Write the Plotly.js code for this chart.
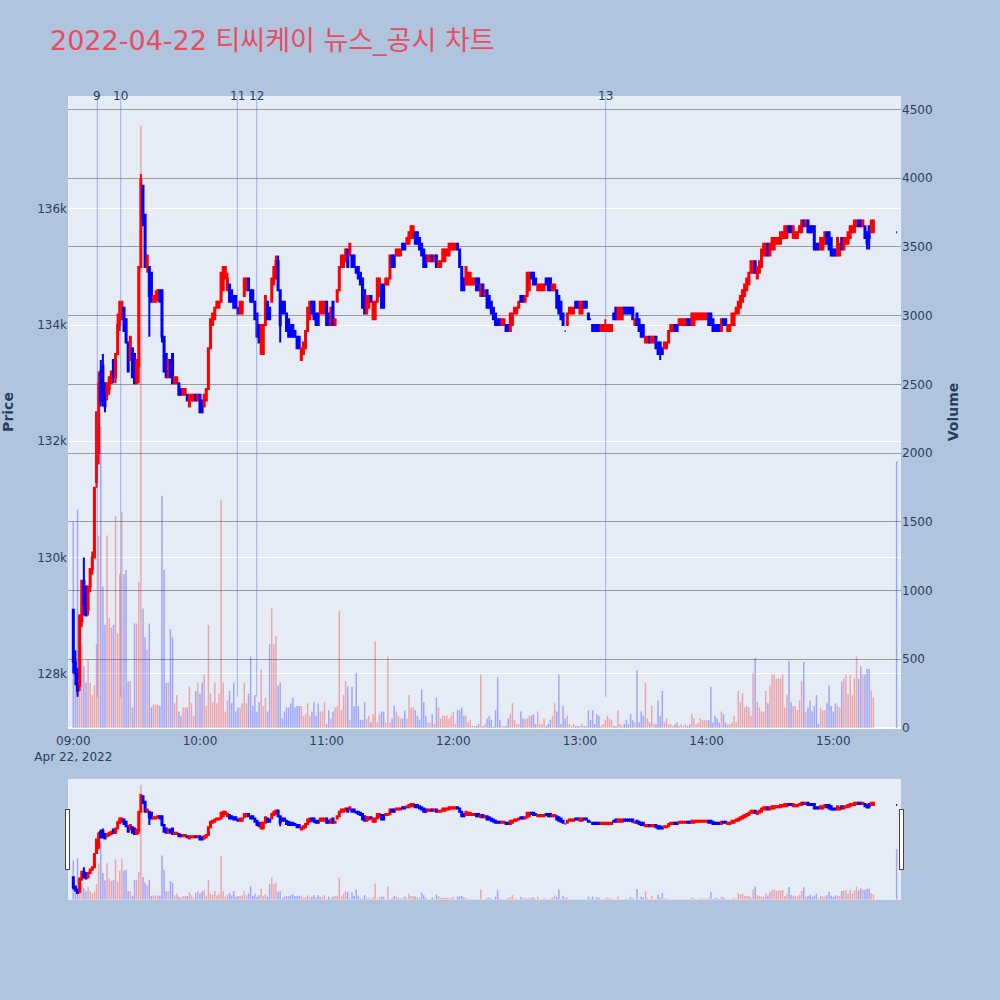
<!DOCTYPE html>
<html>
<head>
<meta charset="utf-8">
<script src="https://cdn.plot.ly/plotly-3.0.1.min.js"></script>
<style>html,body{margin:0;padding:0;background:#B0C4DE;}</style>
</head>
<body>
<div id="chart" style="width:1000px;height:1000px;"></div>
<script>
const chartTitle = '2022-04-22 티씨케이 뉴스_공시 차트';
const tradeDate = '2022-04-22';

const times = [
'09:00','09:01','09:02','09:03','09:04','09:05','09:06','09:07','09:08','09:09','09:10','09:11','09:12','09:13','09:14','09:15','09:16','09:17','09:18','09:19',
'09:20','09:21','09:22','09:23','09:24','09:25','09:26','09:27','09:28','09:29','09:30','09:31','09:32','09:33','09:34','09:35','09:36','09:37','09:38','09:39',
'09:40','09:41','09:42','09:43','09:44','09:45','09:46','09:47','09:48','09:49','09:50','09:51','09:52','09:53','09:54','09:55','09:56','09:57','09:58','09:59',
'10:00','10:01','10:02','10:03','10:04','10:05','10:06','10:07','10:08','10:09','10:10','10:11','10:12','10:13','10:14','10:15','10:16','10:17','10:18','10:19',
'10:20','10:21','10:22','10:23','10:24','10:25','10:26','10:27','10:28','10:29','10:30','10:31','10:32','10:33','10:34','10:35','10:36','10:37','10:38','10:39',
'10:40','10:41','10:42','10:43','10:44','10:45','10:46','10:47','10:48','10:49','10:50','10:51','10:52','10:53','10:54','10:55','10:56','10:57','10:58','10:59',
'11:00','11:01','11:02','11:03','11:04','11:05','11:06','11:07','11:08','11:09','11:10','11:11','11:12','11:13','11:14','11:15','11:16','11:17','11:18','11:19',
'11:20','11:21','11:22','11:23','11:24','11:25','11:26','11:27','11:28','11:29','11:30','11:31','11:32','11:33','11:34','11:35','11:36','11:37','11:38','11:39',
'11:40','11:41','11:42','11:43','11:44','11:45','11:46','11:47','11:48','11:49','11:50','11:51','11:52','11:53','11:54','11:55','11:56','11:57','11:58','11:59',
'12:00','12:01','12:02','12:03','12:04','12:05','12:06','12:07','12:08','12:09','12:10','12:11','12:12','12:13','12:14','12:15','12:16','12:17','12:18','12:19',
'12:20','12:21','12:22','12:23','12:24','12:25','12:26','12:27','12:28','12:29','12:30','12:31','12:32','12:33','12:34','12:35','12:36','12:37','12:38','12:39',
'12:40','12:41','12:42','12:43','12:44','12:45','12:46','12:47','12:48','12:49','12:50','12:51','12:52','12:53','12:54','12:55','12:56','12:57','12:58','12:59',
'13:00','13:01','13:02','13:03','13:04','13:05','13:06','13:07','13:08','13:09','13:10','13:11','13:12','13:13','13:14','13:15','13:16','13:17','13:18','13:19',
'13:20','13:21','13:22','13:23','13:24','13:25','13:26','13:27','13:28','13:29','13:30','13:31','13:32','13:33','13:34','13:35','13:36','13:37','13:38','13:39',
'13:40','13:41','13:42','13:43','13:44','13:45','13:46','13:47','13:48','13:49','13:50','13:51','13:52','13:53','13:54','13:55','13:56','13:57','13:58','13:59',
'14:00','14:01','14:02','14:03','14:04','14:05','14:06','14:07','14:08','14:09','14:10','14:11','14:12','14:13','14:14','14:15','14:16','14:17','14:18','14:19',
'14:20','14:21','14:22','14:23','14:24','14:25','14:26','14:27','14:28','14:29','14:30','14:31','14:32','14:33','14:34','14:35','14:36','14:37','14:38','14:39',
'14:40','14:41','14:42','14:43','14:44','14:45','14:46','14:47','14:48','14:49','14:50','14:51','14:52','14:53','14:54','14:55','14:56','14:57','14:58','14:59',
'15:00','15:01','15:02','15:03','15:04','15:05','15:06','15:07','15:08','15:09','15:10','15:11','15:12','15:13','15:14','15:15','15:16','15:17','15:18','15:19',
'15:30'];

const openPrices = [
129100,128200,128000,127800,128900,129600,129500,129100,129500,129800,
130000,131300,131800,133200,133300,133000,132800,132900,133000,133400,
133100,133500,134000,134100,134300,134100,133700,133400,133600,133500,
133000,133300,135000,136400,135900,135000,135000,134900,134400,134400,
134500,134600,134600,133800,133500,133100,133400,133500,133000,133000,
133000,132900,132800,132800,132800,132600,132700,132700,132800,132700,
132800,132700,132600,132700,132900,133600,134000,134100,134300,134300,
134400,134600,134800,134600,134700,134600,134500,134500,134300,134200,
134200,134500,134600,134800,134600,134600,134400,134200,134000,133500,
133500,134000,134400,134300,134400,134700,134800,135100,134600,134400,
134400,134200,134100,134000,134000,133900,133800,133800,133400,133500,
133600,133900,134100,134400,134400,134200,134200,134200,134200,134200,
134400,134200,134000,134400,134000,134400,134600,135000,135000,135100,
135300,135200,135200,135200,135000,135000,134900,134800,134600,134200,
134300,134500,134100,134100,134400,134500,134700,134700,134700,134700,
134800,135200,135200,135200,135200,135200,135400,135400,135400,135400,
135500,135500,135600,135600,135500,135400,135300,135200,135100,135100,
135200,135100,135200,135000,135000,135100,135100,135200,135200,135300,
135300,135300,135400,135300,135000,134800,134700,134700,134700,134700,
134700,134800,134800,134500,134700,134500,134600,134500,134400,134300,
134200,134100,134100,134000,134000,134000,134000,133900,134000,134200,
134200,134300,134500,134500,134400,134500,134600,134900,134900,134800,
134600,134600,134600,134600,134800,134800,134800,134600,134600,134600,
134500,134400,134200,133900,134000,134200,134200,134200,134400,134400,
134200,134200,134400,134400,134200,134100,134000,134000,134000,134000,
133900,133900,133900,133900,133900,133900,134200,134300,134100,134100,
134100,134300,134300,134300,134300,134300,134000,134200,134100,134000,
134000,133700,133700,133800,133700,133700,133800,133700,133700,133600,
133600,133600,133700,133900,133900,134000,134000,134000,134000,134000,
134000,134100,134100,134000,134000,134100,134100,134100,134100,134100,
134100,134200,134200,134100,134000,134000,134000,133900,134100,134100,
133900,133900,134000,134000,134200,134200,134300,134400,134500,134600,
134700,134900,134900,135100,134800,134900,135000,135200,135200,135400,
135200,135300,135300,135400,135400,135400,135500,135500,135500,135700,
135700,135500,135500,135500,135600,135600,135800,135700,135800,135700,
135700,135700,135400,135400,135300,135300,135400,135600,135600,135500,
135300,135300,135200,135200,135500,135300,135400,135400,135500,135600,
135600,135700,135800,135800,135700,135700,135600,135700,135600,135600,
135600];

const highPrices = [
129100,128400,128100,129000,129600,130000,129500,129500,129800,130100,
131200,132500,133200,133400,133500,133000,133000,133100,133200,133400,
133500,134200,134400,134400,134300,134100,133700,133800,133600,133500,
133400,135000,136600,136400,135900,135200,135000,134900,134500,134600,
134600,134600,134600,133800,133500,133400,133400,133500,133100,133100,
133000,132900,132900,132900,132800,132800,132800,132800,132800,132800,
132800,132700,132800,132900,133600,134100,134200,134300,134400,134400,
134900,135000,135000,134900,134700,134600,134500,134500,134300,134400,
134400,134800,134800,134800,134600,134600,134400,134200,134000,134000,
134000,134500,134400,134300,134800,135000,135200,135200,134600,134400,
134400,134200,134100,134000,134000,133900,133800,133800,133600,133700,
133900,134300,134400,134400,134400,134200,134200,134400,134400,134400,
134400,134200,134300,134400,134100,134600,135000,135200,135200,135300,
135300,135400,135200,135200,135000,135000,134900,134800,134600,134500,
134500,134500,134400,134400,134800,134800,134700,134700,134800,134800,
135200,135200,135200,135300,135300,135300,135400,135400,135500,135600,
135700,135700,135600,135600,135500,135400,135300,135200,135200,135200,
135200,135200,135200,135100,135100,135300,135300,135300,135400,135400,
135400,135400,135400,135300,135000,134800,135000,134900,134900,134800,
134800,134800,134800,134700,134700,134600,134600,134500,134400,134300,
134200,134100,134100,134100,134100,134000,134000,134200,134200,134300,
134300,134400,134500,134500,134500,134900,134900,134900,134900,134800,
134700,134700,134700,134700,134800,134800,134800,134700,134700,134600,
134500,134400,134200,133900,134200,134300,134300,134300,134400,134400,
134400,134400,134400,134400,134200,134100,134000,134000,134000,134000,
134000,134000,134100,134000,134000,134000,134200,134300,134300,134300,
134300,134300,134300,134300,134300,134300,134100,134200,134100,134000,
134000,133800,133800,133800,133800,133800,133800,133700,133700,133600,
133700,133700,133900,134000,134000,134000,134000,134100,134100,134100,
134100,134100,134100,134200,134200,134200,134200,134200,134200,134200,
134200,134200,134200,134100,134000,134000,134000,134100,134100,134100,
134000,134000,134200,134200,134300,134400,134500,134600,134700,134800,
134900,135100,135100,135100,135000,135100,135300,135400,135400,135400,
135400,135500,135500,135500,135500,135600,135600,135700,135700,135700,
135700,135700,135600,135600,135700,135800,135800,135800,135800,135700,
135700,135700,135400,135400,135500,135500,135600,135600,135600,135500,
135300,135300,135500,135400,135500,135500,135500,135600,135700,135700,
135800,135800,135800,135800,135800,135700,135600,135700,135800,135800,
135600];

const lowPrices = [
128000,127800,127600,127700,128800,129000,129000,129000,129400,129700,
130000,131200,131600,132600,132600,132500,132700,132800,133000,133000,
133000,133500,133900,134100,133900,133700,133200,133400,133100,133000,
133000,133000,135000,135700,135000,134900,133800,134400,134400,134400,
134400,134400,133700,133200,133100,133100,133100,133000,133000,133000,
132800,132800,132800,132800,132700,132600,132700,132700,132700,132700,
132500,132500,132600,132700,132900,133600,134000,134100,134300,134300,
134400,134600,134800,134600,134400,134400,134300,134300,134200,134200,
134200,134500,134600,134600,134400,134400,134100,133800,133700,133500,
133500,134000,134100,134100,134400,134700,134800,134600,133700,134200,
134200,133900,133800,133800,133800,133800,133600,133600,133400,133500,
133600,133900,134100,134200,134100,134000,134000,134200,134200,134200,
134000,134000,134000,134000,134000,134400,134600,135000,135000,135100,
135000,135200,135000,135000,134900,134800,134700,134300,134200,134200,
134300,134400,134100,134100,134400,134500,134300,134300,134700,134700,
134800,135000,135000,135200,135200,135200,135300,135300,135400,135400,
135500,135500,135400,135400,135300,135200,135000,135000,135100,135100,
135100,135100,135000,135000,135000,135100,135100,135200,135200,135300,
135300,135300,135300,135000,134600,134600,134700,134700,134700,134700,
134700,134600,134600,134500,134500,134500,134300,134300,134200,134100,
134000,134000,134000,134000,134000,133900,133900,133900,134000,134200,
134200,134300,134400,134400,134400,134500,134600,134800,134700,134700,
134600,134600,134600,134600,134700,134600,134600,134600,134600,134300,
134200,134100,134000,133900,134000,134200,134200,134200,134300,134300,
134200,134200,134300,134300,134100,134100,133900,133900,133900,133900,
133900,133900,133900,133900,133900,133900,134100,134100,134100,134100,
134100,134200,134200,134200,134200,134100,134000,134000,133900,133800,
133800,133700,133700,133700,133700,133700,133600,133500,133400,133500,
133600,133600,133700,133900,133900,133900,133900,134000,134000,134000,
134000,134000,134000,134000,134000,134100,134100,134100,134100,134100,
134100,134000,134000,133900,133900,133900,133900,133900,134000,134000,
133900,133900,134000,134000,134200,134200,134300,134400,134500,134600,
134700,134900,134900,134900,134800,134900,135000,135200,135200,135200,
135200,135300,135300,135400,135400,135400,135500,135500,135500,135600,
135600,135500,135500,135500,135600,135600,135700,135700,135600,135600,
135600,135300,135300,135300,135300,135300,135400,135400,135300,135200,
135200,135200,135200,135200,135300,135300,135400,135400,135500,135600,
135600,135700,135700,135700,135700,135500,135300,135300,135600,135600,
135600];

const closePrices = [
128200,128000,127700,129000,129600,129200,129000,129500,129800,130000,
131200,132500,133000,132700,132800,132600,133000,133100,133200,133100,
133500,134000,134400,134400,133900,133700,133200,133800,133100,133000,
133400,135000,136500,135800,135000,135200,134500,134400,134500,134500,
134600,134400,133800,133200,133100,133400,133100,133000,133100,133100,
132800,132800,132900,132900,132700,132800,132800,132800,132700,132800,
132500,132500,132800,132900,133600,134100,134200,134300,134400,134400,
134900,135000,135000,134800,134400,134400,134300,134300,134200,134400,
134400,134800,134800,134600,134400,134400,134100,133800,133700,134000,
134000,134500,134100,134100,134800,135000,135100,134600,134000,134200,
134200,133900,133800,133800,133800,133800,133600,133600,133600,133700,
133900,134300,134400,134200,134100,134000,134000,134400,134400,134400,
134000,134000,134300,134000,134100,134600,135000,135200,135200,135300,
135000,135400,135000,135000,134900,134800,134700,134300,134200,134500,
134500,134400,134400,134400,134800,134800,134300,134300,134800,134800,
135200,135000,135000,135300,135300,135300,135300,135300,135500,135600,
135700,135700,135400,135400,135300,135200,135000,135000,135200,135200,
135100,135200,135000,135100,135100,135300,135300,135300,135400,135400,
135400,135400,135300,135000,134600,134600,135000,134900,134900,134800,
134800,134600,134600,134700,134500,134600,134300,134300,134200,134100,
134000,134000,134000,134100,134100,133900,133900,134200,134200,134300,
134300,134400,134400,134400,134500,134900,134900,134800,134700,134700,
134700,134700,134700,134700,134700,134600,134600,134700,134700,134300,
134200,134100,134000,133900,134200,134300,134300,134300,134300,134300,
134400,134400,134300,134300,134100,134100,133900,133900,133900,133900,
134000,134000,134000,134000,134000,134000,134100,134100,134300,134300,
134300,134200,134200,134200,134200,134100,134100,134000,133900,133800,
133800,133800,133800,133700,133800,133800,133600,133500,133500,133500,
133700,133700,133900,134000,134000,133900,133900,134100,134100,134100,
134100,134000,134000,134200,134200,134200,134200,134200,134200,134200,
134200,134000,134000,133900,133900,133900,133900,134100,134000,134000,
134000,134000,134200,134200,134300,134400,134500,134600,134700,134800,
134900,135100,135100,134900,135000,135100,135300,135400,135400,135200,
135400,135500,135500,135500,135500,135600,135600,135700,135700,135600,
135600,135700,135600,135600,135700,135800,135700,135800,135600,135600,
135600,135300,135300,135300,135500,135500,135600,135400,135300,135200,
135200,135200,135500,135400,135300,135500,135500,135600,135700,135700,
135800,135800,135700,135700,135800,135500,135400,135500,135800,135800,
135600];

const volumes = [
1500,480,1590,300,610,450,330,500,330,240,
310,610,1400,2190,1030,750,1400,800,730,750,
1540,690,1120,1570,1120,1150,340,340,150,760,
760,1060,4380,870,660,570,760,150,170,170,
170,160,1690,1150,330,330,720,660,180,240,
120,90,150,150,150,300,180,90,270,330,
250,330,390,160,750,250,190,330,180,250,
1660,330,120,200,270,180,330,120,150,150,
180,330,180,250,520,160,240,120,190,430,
160,220,120,610,870,610,670,310,330,70,
120,150,150,180,220,150,160,160,160,90,
100,180,90,120,190,90,180,120,120,190,
30,130,70,120,150,160,850,130,240,340,
300,60,300,160,400,160,60,60,190,70,
90,40,100,630,40,100,120,120,40,520,
40,70,160,120,90,70,70,130,70,240,
150,150,130,90,60,280,190,90,40,40,
100,30,220,150,70,90,90,90,70,90,
120,30,130,130,150,90,90,40,60,15,
15,15,30,390,15,30,70,90,60,10,
130,370,60,15,15,15,70,100,180,60,
30,30,120,70,70,70,90,90,100,30,
120,30,30,70,15,30,60,90,180,120,
390,30,160,70,90,30,15,30,15,15,
15,30,15,15,130,60,130,30,100,90,
15,30,60,90,70,60,15,15,130,30,
15,30,57,27,100,57,40,420,40,120,
90,330,70,40,160,27,27,200,90,270,
40,70,27,27,15,27,40,15,27,15,
27,15,27,100,70,27,40,70,57,57,
57,57,300,40,90,70,40,120,100,40,
27,27,40,90,40,270,190,250,150,160,
150,90,400,510,190,150,120,120,270,180,
310,390,390,360,360,360,390,150,240,490,
190,160,160,130,200,340,480,120,150,200,
120,160,240,30,150,130,130,180,310,160,
120,180,160,150,340,360,390,250,390,240,
360,520,360,450,390,390,430,430,270,220,
1940];

const newsTimes = ['09:11:22','09:22:27','10:17:41','10:26:52','13:12:12'];
const newsLabels = ['9','10','11','12','13'];

const x = times.map(t => tradeDate + ' ' + t);

// volume bar colour follows the candle direction
const volColors = closePrices.map((c, i) => {
  const o = openPrices[i];
  let up;
  if (c > o) up = true;
  else if (c < o) up = false;
  else up = i > 0 ? c > closePrices[i - 1] : false;
  return up ? 'rgba(255,0,0,0.3)' : 'rgba(0,0,255,0.3)';
});

const minLow = Math.min(...lowPrices);
const priceRange = [127063, 137944];

const candle = {
  type: 'candlestick',
  x: x,
  open: openPrices,
  high: highPrices,
  low: lowPrices,
  close: closePrices,
  increasing: {line: {color: 'red'}, fillcolor: 'red'},
  decreasing: {line: {color: 'blue'}, fillcolor: 'blue'},
  name: 'Price',
  yaxis: 'y',
  showlegend: false
};

const volume = {
  type: 'bar',
  x: x,
  y: volumes,
  marker: {color: volColors, line: {width: 0}},
  name: 'Volume',
  yaxis: 'y2',
  showlegend: false
};

const shapes = newsTimes.map(t => ({
  type: 'line', xref: 'x', yref: 'y',
  x0: tradeDate + ' ' + t, x1: tradeDate + ' ' + t,
  y0: minLow, y1: priceRange[1],
  line: {color: 'rgba(65,105,225,0.45)', width: 1}
}));

const annotations = newsTimes.map((t, i) => ({
  x: tradeDate + ' ' + t, xref: 'x',
  y: 1, yref: 'paper',
  text: newsLabels[i], showarrow: false,
  xanchor: 'center', yanchor: 'middle',
  font: {size: 12, color: '#2a3f5f'}
}));

const fontFamily = '"DejaVu Sans", Verdana, "Noto Sans CJK KR", sans-serif';

const layout = {
  width: 1000, height: 1000,
  paper_bgcolor: '#B0C4DE',
  plot_bgcolor: '#E5ECF6',
  font: {family: fontFamily, size: 12, color: '#2a3f5f'},
  title: {
    text: chartTitle,
    x: 0.05, xanchor: 'left', xref: 'container',
    y: 0.959, yanchor: 'middle', yref: 'container',
    font: {size: 27, color: '#E84D61', family: fontFamily}
  },
  margin: {l: 68, r: 99, t: 96, b: 100},
  showlegend: false,
  bargap: 0.3,
  xaxis: {
    type: 'date',
    range: ['2022-04-22 08:57:29', '2022-04-22 15:32:04'],
    showgrid: false,
    zeroline: false,
    ticks: 'outside',
    ticklen: 2,
    tickcolor: 'rgba(0,0,0,0)',
    rangeslider: {visible: true, bgcolor: '#E5ECF6', borderwidth: 0, thickness: 0.15}
  },
  yaxis: {
    title: {text: '<b>Price</b>', font: {size: 14}, standoff: 20},
    automargin: false,
    range: priceRange,
    gridcolor: 'white',
    zeroline: false,
    showgrid: true
  },
  yaxis2: {
    title: {text: '<b>Volume</b>', font: {size: 14}, standoff: 16},
    automargin: false,
    overlaying: 'y',
    side: 'right',
    range: [0, 4597],
    dtick: 500,
    showgrid: true,
    gridcolor: 'rgb(155,155,155)',
    gridwidth: 1,
    zeroline: true,
    zerolinecolor: 'white',
    zerolinewidth: 2
  },
  shapes: shapes,
  annotations: annotations
};

Plotly.newPlot('chart', [candle, volume], layout, {displayModeBar: false, responsive: false});
</script>
</body>
</html>
